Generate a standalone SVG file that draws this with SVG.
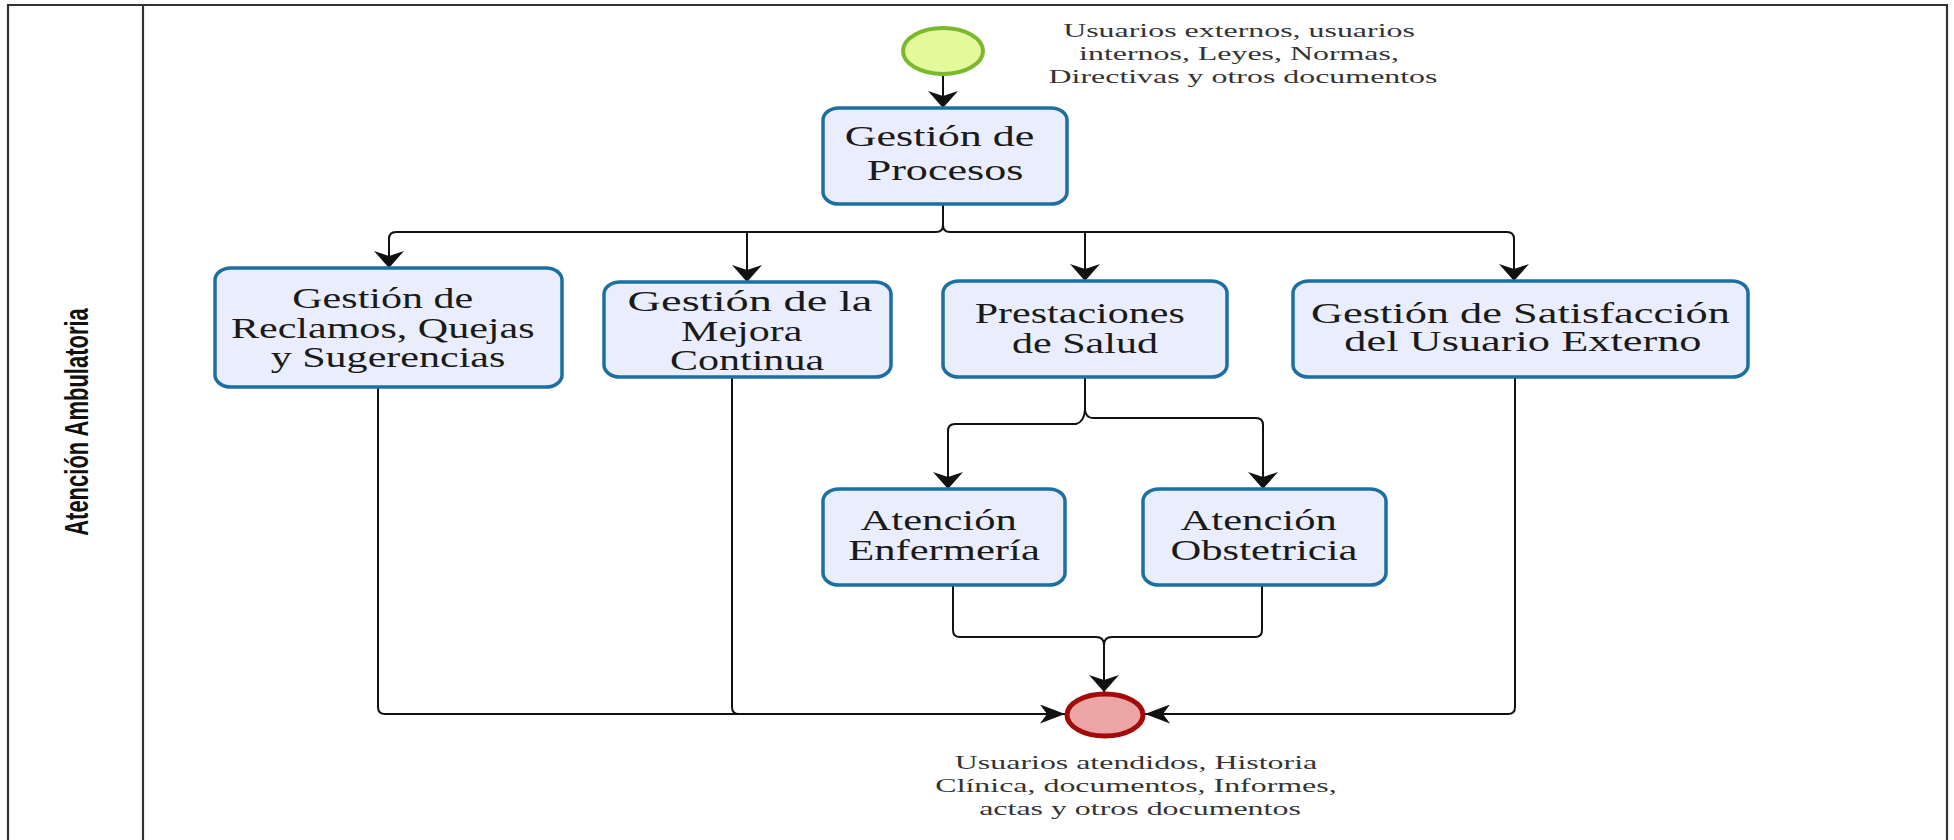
<svg xmlns="http://www.w3.org/2000/svg" width="1954" height="840" viewBox="0 0 1954 840">
  <style>
    .frame { fill: none; stroke: #333; stroke-width: 2.2; }
    .task { fill: #e9edfc; stroke: #1c6fa0; stroke-width: 3.5; }
    .lbl { font-family: "Liberation Serif", "Times New Roman", serif; font-size: 29px; fill: #1a1a1a; text-anchor: middle; }
    .note { font-family: "Liberation Serif", "Times New Roman", serif; font-size: 19px; fill: #333; text-anchor: middle; }
    .lane { font-family: "Liberation Sans", Arial, sans-serif; font-size: 22px; font-weight: bold; fill: #111; text-anchor: middle; }
    .flow { fill: none; stroke: #111; stroke-width: 2; }
    .down { marker-end: url(#arrowV); }
    .side { marker-end: url(#arrowH); }
  </style>
  <defs>
    <marker id="arrowV" markerUnits="userSpaceOnUse" markerWidth="17" markerHeight="30" refX="17" refY="15" orient="auto">
      <path d="M0,0 L17,15 L0,30 L5,15 z" fill="#111"/>
    </marker>
    <marker id="arrowH" markerUnits="userSpaceOnUse" markerWidth="25" markerHeight="19" refX="25" refY="9.5" orient="auto">
      <path d="M0,0 L25,9.5 L0,19 L7,9.5 z" fill="#111"/>
    </marker>
  </defs>

  <rect width="1954" height="840" fill="#ffffff"/>

  <!-- pool and lane -->
  <g id="pool">
    <path class="frame" d="M8,845 V5 H1947 V845"/>
    <path class="frame" d="M143,5 V845"/>
    <text class="lane" transform="translate(76 422) scale(1.5 1) rotate(-90)" x="0" y="8">Atención Ambulatoria</text>
  </g>

  <!-- sequence flows -->
  <g id="connectors">
    <path class="flow down" d="M943,75 V108"/>
    <path class="flow" d="M943,204 V225 Q943,232 936,232 H396 Q389,232 389,239 V268"/>
    <path class="flow down" d="M389,250 V268"/>
    <path class="flow" d="M943,225 Q943,232 950,232 H1507 Q1514,232 1514,239 V281"/>
    <path class="flow down" d="M1514,250 V281"/>
    <path class="flow down" d="M747,232 V282"/>
    <path class="flow down" d="M1085,232 V281"/>

    <path class="flow" d="M1085,377 V410 Q1086,418 1093,418 H1256 Q1263,418 1263,425 V489"/>
    <path class="flow down" d="M1263,460 V489"/>
    <path class="flow" d="M1085,410 Q1084,422 1076,424 H955 Q948,424 948,431 V489"/>
    <path class="flow down" d="M948,460 V489"/>

    <path class="flow" d="M953,585 V630 Q953,637 960,637 H1096 Q1104,637 1104,645 V692"/>
    <path class="flow" d="M1262,585 V630 Q1262,637 1255,637 H1112 Q1104,637 1104,645"/>
    <path class="flow down" d="M1104,660 V692"/>

    <path class="flow" d="M378,387 V707 Q378,714 385,714 H1065"/>
    <path class="flow side" d="M1030,714 H1065"/>
    <path class="flow" d="M732,377 V707 Q732,714 739,714"/>
    <path class="flow" d="M1515,377 V707 Q1515,714 1508,714 H1145"/>
    <path class="flow side" d="M1180,714 H1145"/>
  </g>

  <!-- start event -->
  <g id="start">
    <ellipse cx="943" cy="51" rx="40" ry="23" fill="#e4f89c" stroke="#7cb82e" stroke-width="4"/>
    <text class="note" transform="translate(1243 0) scale(1.68 1)">
      <tspan x="0" y="37">Usuarios externos, usuarios</tspan>
      <tspan x="0" y="60">internos, Leyes, Normas,</tspan>
      <tspan x="0" y="83">Directivas y otros documentos</tspan>
    </text>
  </g>

  <g id="gestion-procesos">
    <rect class="task" x="823" y="108" width="244" height="96" rx="16" ry="12"/>
    <text class="lbl" transform="translate(945 0) scale(1.52 1)">
      <tspan x="0" y="146">Gestión de</tspan>
      <tspan x="0" y="180">Procesos</tspan>
    </text>
  </g>

  <g id="reclamos">
    <rect class="task" x="215" y="268" width="347" height="119" rx="16" ry="12"/>
    <text class="lbl" transform="translate(388 0) scale(1.45 1)">
      <tspan x="0" y="308">Gestión de</tspan>
      <tspan x="0" y="338">Reclamos, Quejas</tspan>
      <tspan x="0" y="367">y Sugerencias</tspan>
    </text>
  </g>

  <g id="mejora">
    <rect class="task" x="604" y="282" width="287" height="95" rx="16" ry="12"/>
    <text class="lbl" transform="translate(750 0) scale(1.6 1)">
      <tspan x="0" y="311">Gestión de la</tspan>
    </text>
    <text class="lbl" transform="translate(747 0) scale(1.45 1)">
      <tspan x="0" y="341">Mejora</tspan>
      <tspan x="0" y="370">Continua</tspan>
    </text>
  </g>

  <g id="prestaciones">
    <rect class="task" x="943" y="281" width="284" height="96" rx="16" ry="12"/>
    <text class="lbl" transform="translate(1085 0) scale(1.45 1)">
      <tspan x="0" y="323">Prestaciones</tspan>
      <tspan x="0" y="353">de Salud</tspan>
    </text>
  </g>

  <g id="satisfaccion">
    <rect class="task" x="1293" y="281" width="455" height="96" rx="16" ry="12"/>
    <text class="lbl" transform="translate(1526 0) scale(1.53 1)">
      <tspan x="0" y="323">Gestión de Satisfacción</tspan>
      <tspan x="-2" y="351">del Usuario Externo</tspan>
    </text>
  </g>

  <g id="enfermeria">
    <rect class="task" x="823" y="489" width="242" height="96" rx="16" ry="12"/>
    <text class="lbl" transform="translate(944 0) scale(1.47 1)">
      <tspan x="0" y="530">Atención</tspan>
      <tspan x="0" y="560">Enfermería</tspan>
    </text>
  </g>

  <g id="obstetricia">
    <rect class="task" x="1143" y="489" width="243" height="96" rx="16" ry="12"/>
    <text class="lbl" transform="translate(1264 0) scale(1.47 1)">
      <tspan x="0" y="530">Atención</tspan>
      <tspan x="0" y="560">Obstetricia</tspan>
    </text>
  </g>

  <!-- end event -->
  <g id="end">
    <ellipse cx="1105" cy="715" rx="38" ry="21" fill="#eba5a5" stroke="#a30a0a" stroke-width="5"/>
    <text class="note" transform="translate(1140 0) scale(1.68 1)">
      <tspan x="0" y="769">Usuarios atendidos, Historia</tspan>
      <tspan x="0" y="792">Clínica, documentos, Informes,</tspan>
      <tspan x="0" y="815">actas y otros documentos</tspan>
    </text>
  </g>
</svg>
